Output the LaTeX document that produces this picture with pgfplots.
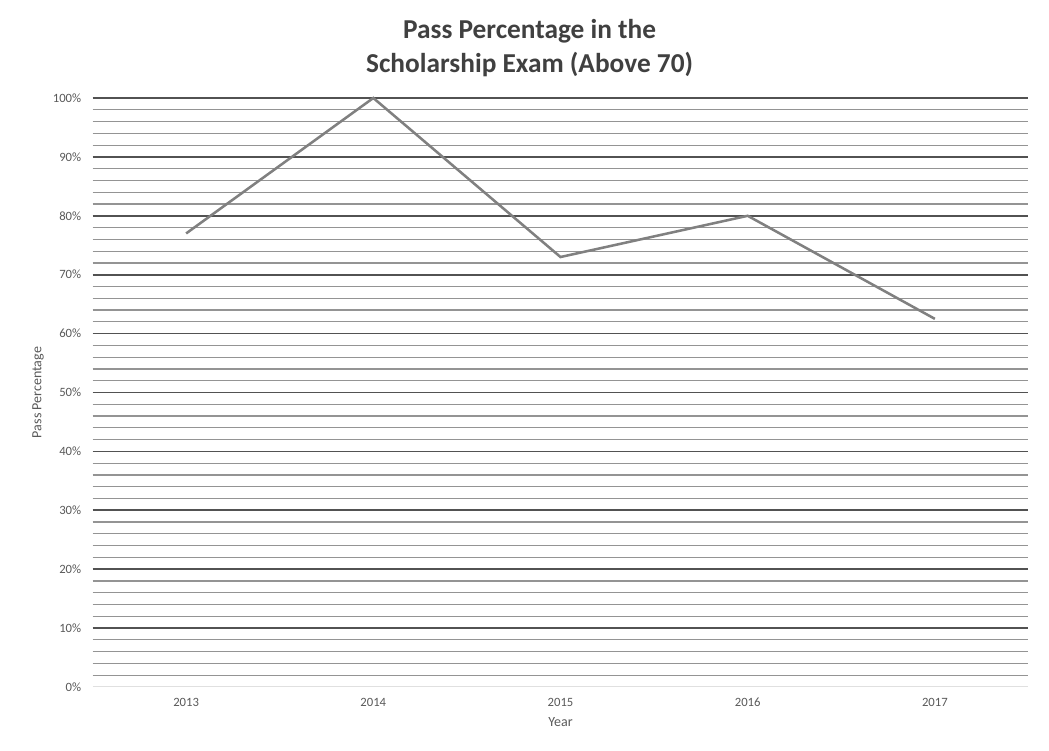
\documentclass[border=0pt]{standalone}
\usepackage{pgfplots}
\pgfplotsset{compat=1.18}
\usepackage{fontspec}
\setmainfont{Carlito}
\definecolor{txt}{HTML}{595959}
\definecolor{ttl}{HTML}{404040}
\begin{document}
\begin{tikzpicture}
\begin{axis}[
  scale only axis,
  width=702pt, height=441.75pt,
  xmin=-0.5, xmax=4.5, ymin=0, ymax=100,
  xtick={0,1,2,3,4},
  xticklabels={2013,2014,2015,2016,2017},
  ytick={10,20,...,100},
  extra y ticks={0},
  extra y tick style={grid=none},
  minor ytick={2,4,6,8,12,14,16,18,22,24,26,28,32,34,36,38,42,44,46,48,52,54,56,58,62,64,66,68,72,74,76,78,82,84,86,88,92,94,96,98},
  yticklabel={\pgfmathprintnumber{\tick}\%},
  /pgf/number format/assume math mode=true,
  ymajorgrids, yminorgrids,
  major grid style={draw=black!68, line width=1.3pt},
  minor grid style={draw=black!42, line width=0.9pt},
  axis x line*=bottom, axis y line*=left,
  x axis line style={draw=black!12, line width=0.8pt, -},
  y axis line style={draw=none},
  major tick length=0pt, minor tick length=0pt,
  tick label style={font=\fontsize{9.5}{11}\selectfont, text=txt},
  xticklabel style={yshift=-5pt},
  yticklabel style={xshift=-5pt},
  xlabel={Year}, ylabel={Pass Percentage},
  label style={font=\fontsize{10.5}{12}\selectfont, text=txt},
  xlabel style={yshift=-1pt},
  ylabel style={yshift=0pt},
  title={Pass Percentage in the\\Scholarship Exam (Above 70)},
  title style={font=\bfseries\fontsize{20.5}{25}\selectfont, text=ttl, align=center, at={(0.467,1)}, anchor=south, yshift=6.5pt},
  clip=false,
]
\addplot[draw=black!50, line width=1.9pt, line join=miter] coordinates {
  (0,77) (1,100) (2,73) (3,80) (4,62.5)
};
\end{axis}
\path[use as bounding box] (-69.4pt,-48pt) rectangle (717.4pt,515.25pt);
\end{tikzpicture}
\end{document}
